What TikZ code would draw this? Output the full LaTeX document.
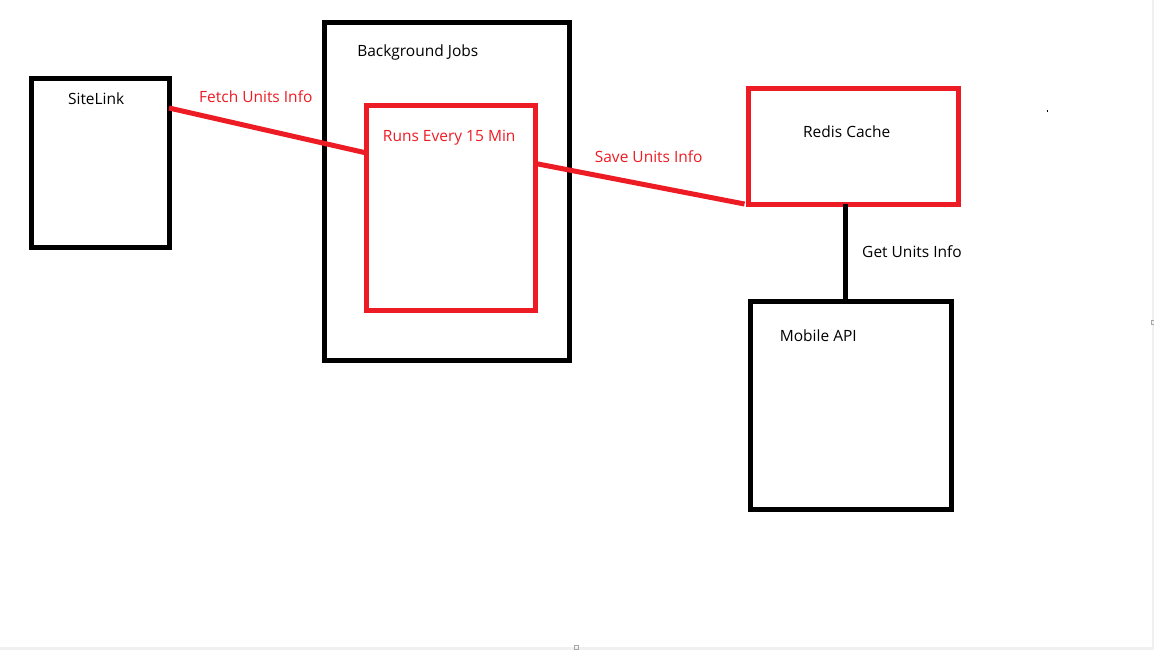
\documentclass[tikz,border=0pt]{standalone}
\usepackage{fontspec}
\setmainfont{Open Sans}
\definecolor{pred}{HTML}{ED1C24}
\definecolor{edge}{HTML}{F0F0F0}
\begin{document}
\begin{tikzpicture}[x=1pt,y=-1pt,
  box/.style={draw=black,line width=5pt,rectangle,inner sep=0pt,outer sep=0pt},
  redbox/.style={box,draw=pred},
  lbl/.style={anchor=base,inner sep=0pt,font=\fontsize{15.5}{18}\selectfont},
  redlbl/.style={lbl,text=pred},
  redline/.style={draw=pred,line width=5pt},
  blackline/.style={draw=black,line width=5pt}]
\useasboundingbox (0,0) rectangle (1154,650);
\fill[white] (0,0) rectangle (1154,650);
\fill[edge] (1152,0) rectangle (1154,650);
\fill[edge] (0,647) rectangle (1154,650);
\draw[gray!70,line width=0.6pt] (574.5,645.5) rectangle (578.5,649.5);
\draw[gray!70,line width=0.6pt] (1151.5,320) rectangle (1155,324);
\fill[black] (1046.5,110.5) rectangle (1048,112);
% boxes
\node[box,minimum width=137.5pt,minimum height=168.5pt] (site) at (100.25,163.25) {};
\node[box,minimum width=245.5pt,minimum height=337pt] (bg) at (446.75,191.5) {};
\node[redbox,minimum width=169pt,minimum height=204.5pt] (runs) at (451,207.75) {};
\node[redbox,minimum width=210pt,minimum height=115pt] (redis) at (853.5,146.5) {};
\node[box,minimum width=201pt,minimum height=207.5pt] (mobile) at (851,405.25) {};
% labels
\node[lbl] (tsite) at (96.2,105) {SiteLink};
\node[lbl] (tbg) at (417.8,56.5) {Background Jobs};
\node[redlbl] (truns) at (449.2,142) {Runs Every 15 Min};
\node[lbl] (tredis) at (846.7,138) {Redis Cache};
\node[lbl] (tmobile) at (818.3,341) {Mobile API};
\node[redlbl] (tfetch) at (255.8,103) {Fetch Units Info};
\node[redlbl] (tsave) at (648.7,162) {Save Units Info};
\node[lbl] (tget) at (912,257) {Get Units Info};
% connectors
\draw[redline] ([yshift=-29pt]site.north east) -- ([yshift=-47.5pt]runs.north west);
\draw[redline] ([yshift=-58pt]runs.north east) -- ([xshift=-4pt]redis.south west);
\draw[blackline] ([xshift=-8pt]redis.south) -- ([xshift=-8pt]redis.south |- mobile.north);
\end{tikzpicture}
\end{document}
